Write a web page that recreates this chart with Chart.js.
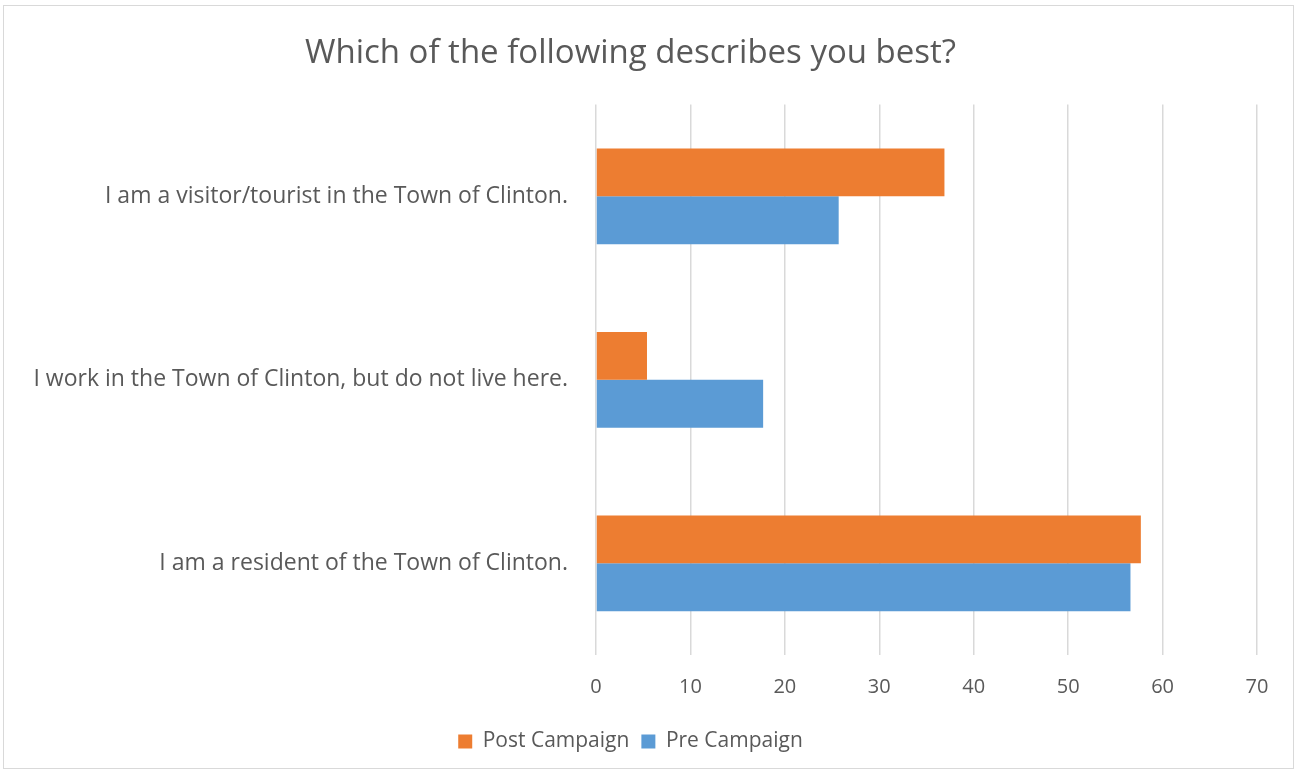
<!DOCTYPE html>
<html>
<head>
<meta charset="utf-8">
<script src="https://cdn.jsdelivr.net/npm/chart.js@4.4.1/dist/chart.umd.min.js"></script>
<style>
  html, body { margin: 0; padding: 0; background: #fff; }
  #wrap {
    position: absolute; left: 3px; top: 5px;
    width: 1291px; height: 764px;
    border: 1px solid #d9d9d9;
    box-sizing: border-box;
  }
  #graphics { display: block; }
</style>
</head>
<body>
<div id="wrap"><canvas id="graphics" width="1289" height="762"></canvas></div>
<script>
const categories = [
    'I am a visitor/tourist in the Town of Clinton.',
    'I work in the Town of Clinton, but do not live here.',
    'I am a resident of the Town of Clinton.'
];
const postCampaign = [36.9, 5.4, 57.7];
const preCampaign = [25.7, 17.7, 56.6];
const xTicks = [0, 10, 20, 30, 40, 50, 60, 70];

const textColor = '#595959';
const fontName = "'Open Sans', 'Noto Sans', sans-serif";

const ctx = document.getElementById('graphics');

var myChart = new Chart(ctx, {
    type: 'bar',
    data: {
        labels: categories,
        datasets: [{
            label: 'Post Campaign',
            data: postCampaign,
            backgroundColor: '#ed7d31',
            categoryPercentage: 0.522,
            barPercentage: 1.0
        }, {
            label: 'Pre Campaign',
            data: preCampaign,
            backgroundColor: '#5b9bd5',
            categoryPercentage: 0.522,
            barPercentage: 1.0
        }]
    },
    options: {
        indexAxis: 'y',
        responsive: false,
        animation: false,
        layout: { padding: { left: 0, right: 36, top: 0, bottom: 6 } },
        plugins: {
            title: {
                display: true,
                text: 'Which of the following describes you best?',
                color: textColor,
                font: { family: fontName, size: 33, weight: 'normal' },
                padding: { top: 28, bottom: 31 }
            },
            legend: {
                position: 'bottom',
                labels: {
                    color: textColor,
                    font: { family: fontName, size: 21 },
                    boxWidth: 14,
                    boxHeight: 14,
                    padding: 12
                }
            },
            tooltip: { enabled: false }
        },
        scales: {
            x: {
                min: 0,
                max: 70,
                afterBuildTicks: (axis) => {
                    axis.ticks = xTicks.map(v => ({ value: v }));
                },
                grid: { color: '#d9d9d9', lineWidth: 1.5, drawTicks: false },
                border: { display: false },
                ticks: {
                    color: textColor,
                    padding: 20,
                    font: { family: fontName, size: 20 }
                }
            },
            y: {
                afterFit: (axis) => {
                    axis.width = 592;
                },
                grid: { display: false, drawTicks: false },
                border: { display: false },
                ticks: {
                    color: textColor,
                    padding: 28,
                    font: { family: fontName, size: 23 }
                }
            }
        }
    }
});
</script>
</body>
</html>
